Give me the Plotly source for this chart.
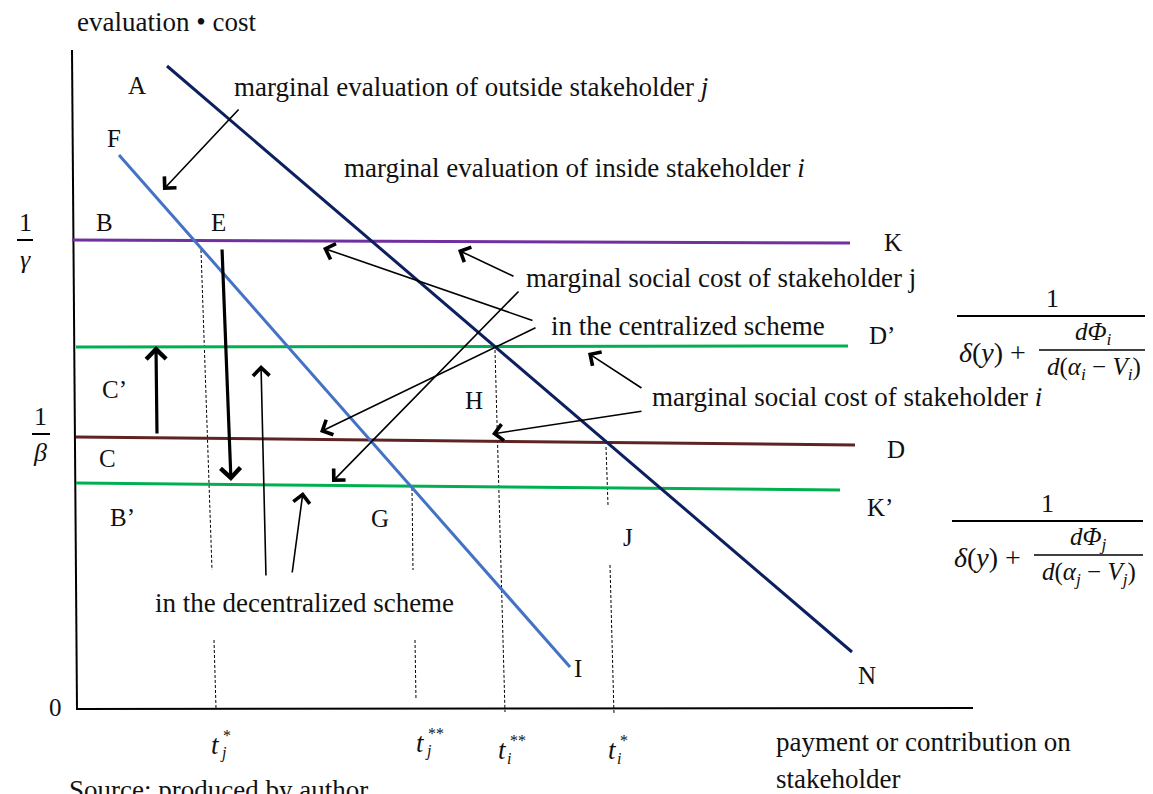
import plotly.graph_objects as go

# Coordenadas del esquema (espacio de la figura, y hacia abajo)
# curvas de evaluacion marginal
eval_i_x = [167, 852]   # A -> N (stakeholder interno i)
eval_i_y = [66, 652]
eval_j_x = [119, 570]   # F -> I (stakeholder externo j)
eval_j_y = [155, 667]

# costes sociales marginales (horizontales)
cost_j_cen_x = [72, 850]    # K  : 1/gamma
cost_j_cen_y = [240, 243]
cost_i_cen_x = [76, 848]    # D'
cost_i_cen_y = [347, 346]
cost_i_dec_x = [76, 855]    # D  : 1/beta
cost_i_dec_y = [437, 445]
cost_j_dec_x = [76, 840]    # K'
cost_j_dec_y = [483, 490]

# ejes
yaxis_x = [72, 77]
yaxis_y = [50, 710]
xaxis_x = [76, 973]
xaxis_y = [709, 708]

# lineas guia punteadas (tramos)
guide_x = [[201, 212], [214, 216], [412, 413], [415, 416], [495, 505], [606, 608], [610, 614]]
guide_y = [[250, 570], [640, 708], [488, 570], [640, 700], [350, 712], [447, 505], [565, 715]]

# letras de puntos
point_names = ['A', 'F', 'B', 'E', 'K', 'D’', 'C’', 'H', 'C', 'D', 'B’', 'G', 'K’', 'J', 'I', 'N', '0']
point_x = [137, 114, 104, 218, 893, 882, 114, 474, 107, 896, 122, 380, 880, 628, 578, 867, 55]
point_y = [85, 138, 222, 222, 242, 335, 389, 400, 458, 449, 517, 518, 507, 537, 668, 675, 707]

# textos explicativos
notes = [
    'evaluation • cost',
    'marginal evaluation of outside stakeholder <i>j</i>',
    'marginal evaluation of inside stakeholder <i>i</i>',
    'marginal social cost of stakeholder j',
    'in the centralized scheme',
    'marginal social cost of stakeholder <i>i</i>',
    'in the decentralized scheme',
    'payment or contribution on',
    'stakeholder',
    'Source: produced by author',
]
note_x = [75, 232, 342, 524, 549, 650, 153, 774, 774, 67]
note_y = [22, 87, 168, 278, 326, 397, 603, 742, 779, 790]

# flechas finas: (cola x, cola y, punta x, punta y)
arrows = [
    (240, 108, 163, 190),
    (515, 277, 458, 250),
    (534, 321, 323, 248),
    (537, 327, 320, 432),
    (520, 290, 332, 482),
    (643, 389, 588, 353),
    (643, 411, 492, 434),
    (266, 577, 261, 365),
    (292, 574, 303, 492),
]
# flechas gruesas
thick_arrows = [
    (222, 248, 231, 481),
    (157, 435, 156, 346),
]

# etiquetas del eje x: (base, subindice, superindice)
ticks = [('t', 'j', '*'), ('t', 'j', '**'), ('t', 'i', '**'), ('t', 'i', '*')]
tick_x = [215, 420, 502, 612]
tick_y = [745, 743, 750, 750]

SERIF = 'Liberation Serif'
INK = '#111111'
OFF = 8  # margen por defecto del <body>

fig = go.Figure()


def seg(x, y, color, width, dash='solid'):
    fig.add_trace(go.Scatter(x=x, y=y, mode='lines', hoverinfo='skip',
                             line=dict(color=color, width=width, dash=dash)))


def txt(x, y, s, size=26, anchor='center'):
    fig.add_annotation(x=x, y=y, text=s, showarrow=False, xanchor=anchor, yanchor='middle',
                       font=dict(family=SERIF, size=size, color=INK))


# ejes
seg(yaxis_x, yaxis_y, 'black', 2)
seg(xaxis_x, xaxis_y, 'black', 2)

# guias
for gx, gy in zip(guide_x, guide_y):
    seg(gx, gy, 'black', 1, dash='3px,2px')

# costes
seg(cost_j_cen_x, cost_j_cen_y, '#7030A0', 3)
seg(cost_i_cen_x, cost_i_cen_y, '#00B050', 3)
seg(cost_i_dec_x, cost_i_dec_y, '#5e2424', 3)
seg(cost_j_dec_x, cost_j_dec_y, '#00B050', 3)

# evaluaciones
seg(eval_i_x, eval_i_y, '#0c1f5e', 3)
seg(eval_j_x, eval_j_y, '#4472C4', 3)

# flechas
for tx, ty, hx, hy in arrows:
    fig.add_annotation(x=hx, y=hy, ax=tx, ay=ty, axref='x', ayref='y', xref='x', yref='y',
                       text='', showarrow=True, arrowhead=4, arrowsize=2.0, arrowwidth=1.6,
                       arrowcolor='black', standoff=0)
for tx, ty, hx, hy in thick_arrows:
    fig.add_annotation(x=hx, y=hy, ax=tx, ay=ty, axref='x', ayref='y', xref='x', yref='y',
                       text='', showarrow=True, arrowhead=4, arrowsize=1.2, arrowwidth=3.2,
                       arrowcolor='black', standoff=0)

# letras
for n, x, y in zip(point_names, point_x, point_y):
    txt(x, y, n, size=25)

# notas
for s, x, y in zip(notes, note_x, note_y):
    txt(x, y, s, size=27, anchor='left')

# 1/gamma y 1/beta
txt(25, 222, '1')
seg([17, 33], [240, 240], 'black', 2)
txt(25, 259, '<i>γ</i>')
txt(40, 416, '1')
seg([32, 50], [434, 434], 'black', 2)
txt(40, 452, '<i>β</i>')

# etiquetas del eje x
for (b, sb, sp), x, y in zip(ticks, tick_x, tick_y):
    txt(x, y, '<i>' + b + '</i>', size=27)
    txt(x + 3, y + 8, '<i>' + sb + '</i>', size=16, anchor='left')
    txt(x + 6, y - 10, sp, size=16, anchor='left')


# fracciones de la derecha
def fraction(left, right, top, idx):
    txt((left + right) / 2, top, '1')
    seg([left, right], [top + 18, top + 18], 'black', 2)
    txt(left, top + 54, '<i>δ</i>(<i>y</i>) +', size=28, anchor='left')
    inner = left + 82
    seg([inner, right], [top + 52, top + 52], 'black', 1.3)
    txt((inner + right) / 2, top + 35,
        '<i>dΦ</i><sub><i>' + idx + '</i></sub>', size=25)
    txt((inner + right) / 2, top + 70,
        '<i>d</i>(<i>α</i><sub><i>' + idx + '</i></sub> − <i>V</i><sub><i>' + idx + '</i></sub>)',
        size=25)


fraction(957, 1148, 298, 'i')
fraction(952, 1143, 503, 'j')

fig.update_layout(
    width=1153 - OFF, height=794 - OFF,
    margin=dict(l=0, r=0, t=0, b=0),
    showlegend=False,
    plot_bgcolor='white', paper_bgcolor='white',
    xaxis=dict(range=[OFF, 1153], visible=False, fixedrange=True),
    yaxis=dict(range=[794, OFF], visible=False, fixedrange=True),
)

fig.write_html('out.html')
